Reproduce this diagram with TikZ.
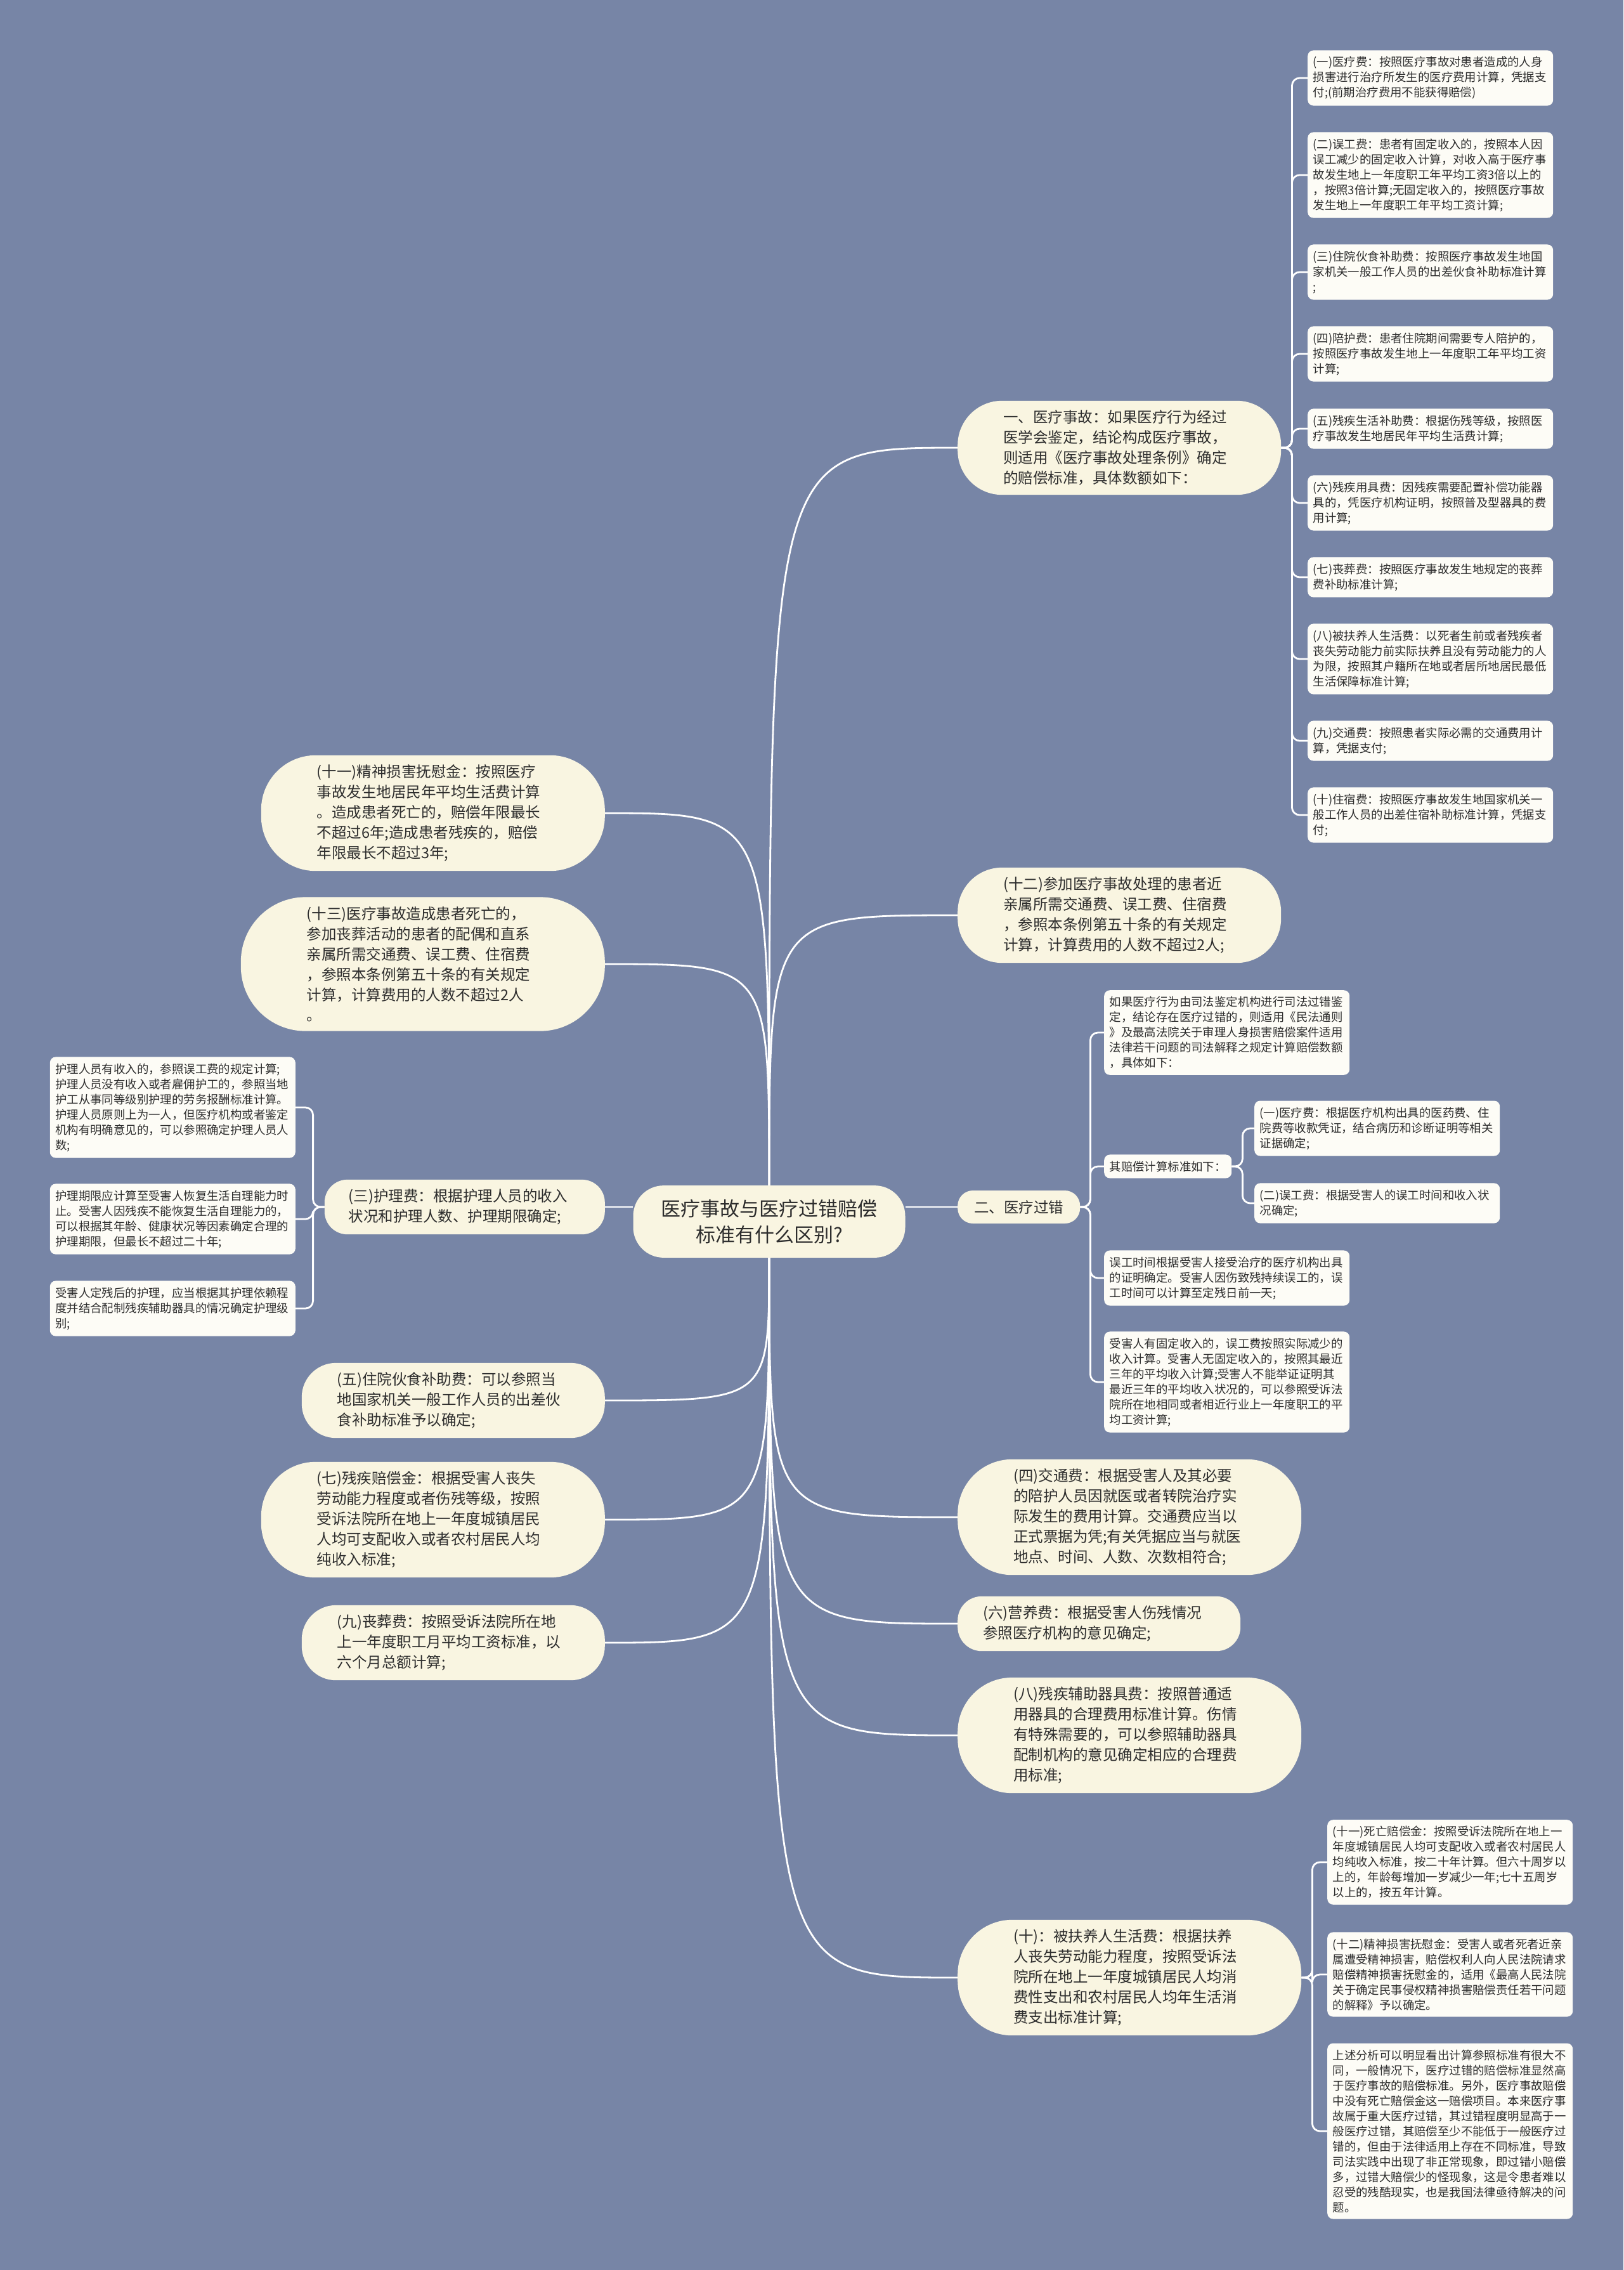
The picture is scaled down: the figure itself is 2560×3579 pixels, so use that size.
\documentclass[tikz,border=0pt]{standalone}
\usepackage{fontspec}
\setmainfont{Noto Sans CJK SC}
\usetikzlibrary{backgrounds}

\definecolor{bgblue}{RGB}{119,133,166}
\definecolor{cream}{RGB}{249,245,225}
\definecolor{paper}{RGB}{253,252,246}
\definecolor{ink}{RGB}{45,45,45}

\newcommand{\rootfont}{\fontsize{31}{41}\selectfont}
\newcommand{\topicfont}{\fontsize{23.5}{32}\selectfont}
\newcommand{\leaffont}{\fontsize{18.4}{24}\selectfont}

\tikzset{
  rootbox/.style = {
    rectangle, rounded corners=48pt, fill=cream, text=ink,
    font=\rootfont, align=center, inner xsep=44pt, inner ysep=22pt
  },
  topic/.style = {
    rectangle, fill=cream, text=ink,
    font=\topicfont, align=left, inner ysep=15pt
  },
  topicw/.style = { topic, text width=366pt },
  pill/.style = { inner xsep=#1, rounded corners=#1-2pt, minimum height=2*#1 },
  leaf/.style = {
    rectangle, rounded corners=9pt, fill=paper, text=ink,
    font=\leaffont, align=left, inner xsep=8.5pt, inner ysep=10pt
  },
  leafw/.style = { leaf, text width=370pt },
  link/.style = { draw=white, line width=2.8pt, rounded corners=12pt }
}

\begin{document}
\begin{tikzpicture}[x=1pt, y=-1pt]

    \useasboundingbox (0,0) rectangle (2560,3579);

    % ---------------------------------------------------------------- Centre
    \node [rootbox] (question) at (1213,1926) {医疗事故与医疗过错赔偿\\标准有什么区别?};

    % --------------------------------------------------------- Right topics
    \node [topicw, pill=72pt, anchor=west] (accident)  at (1510, 706) {一、医疗事故：如果医疗行为经过\\医学会鉴定，结论构成医疗事故，\\则适用《医疗事故处理条例》确定\\的赔偿标准，具体数额如下：};
    \node [topicw, pill=72pt, anchor=west] (relatives) at (1510,1443) {(十二)参加医疗事故处理的患者近\\亲属所需交通费、误工费、住宿费\\，参照本条例第五十条的有关规定\\计算，计算费用的人数不超过2人;};
    \node [topic,  pill=26pt, anchor=west] (fault)     at (1510,1903) {二、医疗过错};
    \node [topicw, pill=88pt, anchor=west] (transport) at (1510,2392) {(四)交通费：根据受害人及其必要\\的陪护人员因就医或者转院治疗实\\际发生的费用计算。交通费应当以\\正式票据为凭;有关凭据应当与就医\\地点、时间、人数、次数相符合;};
    \node [topicw, pill=40pt, anchor=west] (nutrition) at (1510,2560) {(六)营养费：根据受害人伤残情况\\参照医疗机构的意见确定;};
    \node [topicw, pill=88pt, anchor=west] (aids)      at (1510,2736) {(八)残疾辅助器具费：按照普通适\\用器具的合理费用标准计算。伤情\\有特殊需要的，可以参照辅助器具\\配制机构的意见确定相应的合理费\\用标准;};
    \node [topicw, pill=88pt, anchor=west] (dependant) at (1510,3118) {(十)：被扶养人生活费：根据扶养\\人丧失劳动能力程度，按照受诉法\\院所在地上一年度城镇居民人均消\\费性支出和农村居民人均年生活消\\费支出标准计算;};

    % ---------------------------------------------------------- Left topics
    \node [topicw, pill=88pt,  anchor=east] (mental)      at (954,1282) {(十一)精神损害抚慰金：按照医疗\\事故发生地居民年平均生活费计算\\。造成患者死亡的，赔偿年限最长\\不超过6年;造成患者残疾的，赔偿\\年限最长不超过3年;};
    \node [topicw, pill=104pt, anchor=east] (funeral_rel) at (954,1520) {(十三)医疗事故造成患者死亡的，\\参加丧葬活动的患者的配偶和直系\\亲属所需交通费、误工费、住宿费\\，参照本条例第五十条的有关规定\\计算，计算费用的人数不超过2人\\。};
    \node [topicw, pill=38pt,  anchor=east] (nursing)     at (954,1903) {(三)护理费：根据护理人员的收入\\状况和护理人数、护理期限确定;};
    \node [topicw, pill=56pt,  anchor=east] (hosp_meal)   at (954,2208) {(五)住院伙食补助费：可以参照当\\地国家机关一般工作人员的出差伙\\食补助标准予以确定;};
    \node [topicw, pill=88pt,  anchor=east] (disability)  at (954,2396) {(七)残疾赔偿金：根据受害人丧失\\劳动能力程度或者伤残等级，按照\\受诉法院所在地上一年度城镇居民\\人均可支配收入或者农村居民人均\\纯收入标准;};
    \node [topicw, pill=56pt,  anchor=east] (funeral)     at (954,2590) {(九)丧葬费：按照受诉法院所在地\\上一年度职工月平均工资标准，以\\六个月总额计算;};

    % ------------------------------------------------- Medical accident items
    \node [leafw, anchor=west] (acc_medical)    at (2062, 123) {(一)医疗费：按照医疗事故对患者造成的人身\\损害进行治疗所发生的医疗费用计算，凭据支\\付;(前期治疗费用不能获得赔偿)};
    \node [leafw, anchor=west] (acc_wage)       at (2062, 276) {(二)误工费：患者有固定收入的，按照本人因\\误工减少的固定收入计算，对收入高于医疗事\\故发生地上一年度职工年平均工资3倍以上的\\，按照3倍计算;无固定收入的，按照医疗事故\\发生地上一年度职工年平均工资计算;};
    \node [leafw, anchor=west] (acc_meal)       at (2062, 429) {(三)住院伙食补助费：按照医疗事故发生地国\\家机关一般工作人员的出差伙食补助标准计算\\;};
    \node [leafw, anchor=west] (acc_escort)     at (2062, 558) {(四)陪护费：患者住院期间需要专人陪护的，\\按照医疗事故发生地上一年度职工年平均工资\\计算;};
    \node [leafw, anchor=west] (acc_disab_life) at (2062, 676) {(五)残疾生活补助费：根据伤残等级，按照医\\疗事故发生地居民年平均生活费计算;};
    \node [leafw, anchor=west] (acc_aids)       at (2062, 793) {(六)残疾用具费：因残疾需要配置补偿功能器\\具的，凭医疗机构证明，按照普及型器具的费\\用计算;};
    \node [leafw, anchor=west] (acc_funeral)    at (2062, 910) {(七)丧葬费：按照医疗事故发生地规定的丧葬\\费补助标准计算;};
    \node [leafw, anchor=west] (acc_dependant)  at (2062,1039) {(八)被扶养人生活费：以死者生前或者残疾者\\丧失劳动能力前实际扶养且没有劳动能力的人\\为限，按照其户籍所在地或者居所地居民最低\\生活保障标准计算;};
    \node [leafw, anchor=west] (acc_transport)  at (2062,1168) {(九)交通费：按照患者实际必需的交通费用计\\算，凭据支付;};
    \node [leafw, anchor=west] (acc_lodging)    at (2062,1285) {(十)住宿费：按照医疗事故发生地国家机关一\\般工作人员的出差住宿补助标准计算，凭据支\\付;};

    % ---------------------------------------------------- Medical fault items
    \node [leafw, anchor=west] (fault_intro) at (1741,1628) {如果医疗行为由司法鉴定机构进行司法过错鉴\\定，结论存在医疗过错的，则适用《民法通则\\》及最高法院关于审理人身损害赔偿案件适用\\法律若干问题的司法解释之规定计算赔偿数额\\，具体如下：};
    \node [leaf,  anchor=west] (fault_calc)  at (1741,1839) {其赔偿计算标准如下：};
    \node [leafw, anchor=west] (lost_time)   at (1741,2015) {误工时间根据受害人接受治疗的医疗机构出具\\的证明确定。受害人因伤致残持续误工的，误\\工时间可以计算至定残日前一天;};
    \node [leafw, anchor=west] (lost_income) at (1741,2179) {受害人有固定收入的，误工费按照实际减少的\\收入计算。受害人无固定收入的，按照其最近\\三年的平均收入计算;受害人不能举证证明其\\最近三年的平均收入状况的，可以参照受诉法\\院所在地相同或者相近行业上一年度职工的平\\均工资计算;};

    \node [leafw, anchor=west] (calc_medical) at (1978,1779) {(一)医疗费：根据医疗机构出具的医药费、住\\院费等收款凭证，结合病历和诊断证明等相关\\证据确定;};
    \node [leafw, anchor=west] (calc_wage)    at (1978,1897) {(二)误工费：根据受害人的误工时间和收入状\\况确定;};

    % ------------------------------------------------------- Nursing items
    \node [leafw, anchor=east] (nurse_income) at (466,1746) {护理人员有收入的，参照误工费的规定计算;\\护理人员没有收入或者雇佣护工的，参照当地\\护工从事同等级别护理的劳务报酬标准计算。\\护理人员原则上为一人，但医疗机构或者鉴定\\机构有明确意见的，可以参照确定护理人员人\\数;};
    \node [leafw, anchor=east] (nurse_period) at (466,1922) {护理期限应计算至受害人恢复生活自理能力时\\止。受害人因残疾不能恢复生活自理能力的，\\可以根据其年龄、健康状况等因素确定合理的\\护理期限，但最长不超过二十年;};
    \node [leafw, anchor=east] (nurse_level)  at (466,2063) {受害人定残后的护理，应当根据其护理依赖程\\度并结合配制残疾辅助器具的情况确定护理级\\别;};

    % ----------------------------------------------------- Dependant items
    \node [leafw, anchor=west] (death_comp)  at (2093,2936) {(十一)死亡赔偿金：按照受诉法院所在地上一\\年度城镇居民人均可支配收入或者农村居民人\\均纯收入标准，按二十年计算。但六十周岁以\\上的，年龄每增加一岁减少一年;七十五周岁\\以上的，按五年计算。};
    \node [leafw, anchor=west] (mental_comp) at (2093,3113) {(十二)精神损害抚慰金：受害人或者死者近亲\\属遭受精神损害，赔偿权利人向人民法院请求\\赔偿精神损害抚慰金的，适用《最高人民法院\\关于确定民事侵权精神损害赔偿责任若干问题\\的解释》予以确定。};
    \node [leafw, anchor=west] (summary)     at (2093,3360) {上述分析可以明显看出计算参照标准有很大不\\同，一般情况下，医疗过错的赔偿标准显然高\\于医疗事故的赔偿标准。另外，医疗事故赔偿\\中没有死亡赔偿金这一赔偿项目。本来医疗事\\故属于重大医疗过错，其过错程度明显高于一\\般医疗过错，其赔偿至少不能低于一般医疗过\\错的，但由于法律适用上存在不同标准，导致\\司法实践中出现了非正常现象，即过错小赔偿\\多，过错大赔偿少的怪现象，这是令患者难以\\忍受的残酷现实，也是我国法律亟待解决的问\\题。};

    % ------------------------------------------------------------ Junctions
    \coordinate (acc_j)   at ([xshift=17pt]accident.east);
    \coordinate (fault_j) at ([xshift=16pt]fault.east);
    \coordinate (calc_j)  at ([xshift=17pt]fault_calc.east);
    \coordinate (nurse_j) at ([xshift=-18pt]nursing.west);
    \coordinate (dep_j)   at ([xshift=17pt]dependant.east);

    % ------------------------------------ Connectors (behind the shapes)
    \begin{scope}[on background layer]

      \fill [bgblue] (0,0) rectangle (2560,3579);

      % -------- centre to topics, upwards
      \draw [link] (question.north) .. controls (question.north |- accident.west)  .. (accident.west);
      \draw [link] (question.north) .. controls (question.north |- relatives.west) .. (relatives.west);
      \draw [link] (question.north) .. controls (question.north |- mental.east)    .. (mental.east);
      \draw [link] (question.north) .. controls (question.north |- funeral_rel.east) .. (funeral_rel.east);

      % -------- centre to topics, sideways
      \draw [link] (question.east |- fault.west) -- (fault.west);
      \draw [link] (question.west |- nursing.east) -- (nursing.east);

      % -------- centre to topics, downwards
      \draw [link] (question.south) .. controls (question.south |- transport.west) .. (transport.west);
      \draw [link] (question.south) .. controls (question.south |- nutrition.west) .. (nutrition.west);
      \draw [link] (question.south) .. controls (question.south |- aids.west)      .. (aids.west);
      \draw [link] (question.south) .. controls (question.south |- dependant.west) .. (dependant.west);
      \draw [link] (question.south) .. controls (question.south |- hosp_meal.east) .. (hosp_meal.east);
      \draw [link] (question.south) .. controls (question.south |- disability.east) .. (disability.east);
      \draw [link] (question.south) .. controls (question.south |- funeral.east)   .. (funeral.east);

      % -------- medical accident
      \draw [link] (accident.east) -- (acc_j) |- (acc_medical.west);
      \draw [link] (accident.east) -- (acc_j) |- (acc_wage.west);
      \draw [link] (accident.east) -- (acc_j) |- (acc_meal.west);
      \draw [link] (accident.east) -- (acc_j) |- (acc_escort.west);
      \draw [link] (accident.east) -- (acc_j) |- (acc_disab_life.west);
      \draw [link] (accident.east) -- (acc_j) |- (acc_aids.west);
      \draw [link] (accident.east) -- (acc_j) |- (acc_funeral.west);
      \draw [link] (accident.east) -- (acc_j) |- (acc_dependant.west);
      \draw [link] (accident.east) -- (acc_j) |- (acc_transport.west);
      \draw [link] (accident.east) -- (acc_j) |- (acc_lodging.west);

      % -------- medical fault
      \draw [link] (fault.east) -- (fault_j) |- (fault_intro.west);
      \draw [link] (fault.east) -- (fault_j) |- (fault_calc.west);
      \draw [link] (fault.east) -- (fault_j) |- (lost_time.west);
      \draw [link] (fault.east) -- (fault_j) |- (lost_income.west);
      \draw [link] (fault_calc.east) -- (calc_j) |- (calc_medical.west);
      \draw [link] (fault_calc.east) -- (calc_j) |- (calc_wage.west);

      % -------- nursing
      \draw [link] (nursing.west) -- (nurse_j) |- (nurse_income.east);
      \draw [link] (nursing.west) -- (nurse_j) |- (nurse_period.east);
      \draw [link] (nursing.west) -- (nurse_j) |- (nurse_level.east);

      % -------- dependants
      \draw [link] (dependant.east) -- (dep_j) |- (death_comp.west);
      \draw [link] (dependant.east) -- (dep_j) |- (mental_comp.west);
      \draw [link] (dependant.east) -- (dep_j) |- (summary.west);

    \end{scope}

\end{tikzpicture}
\end{document}
